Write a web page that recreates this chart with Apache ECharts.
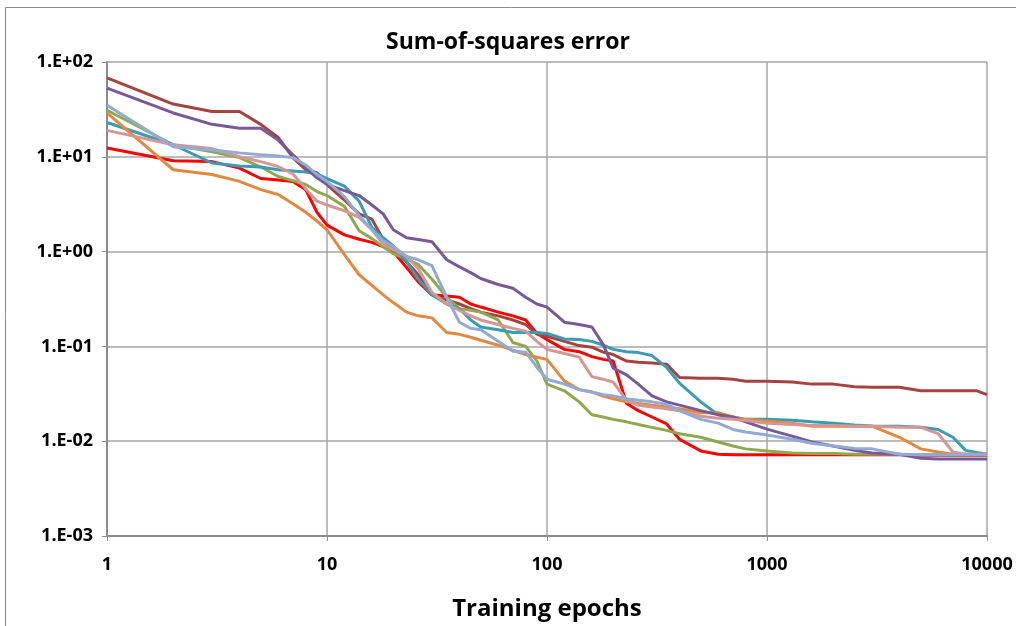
<!DOCTYPE html>
<html>
<head>
<meta charset="utf-8">
<script src="https://cdn.jsdelivr.net/npm/echarts@6/dist/echarts.min.js"></script>
<style>
  html, body { margin: 0; padding: 0; background: #fff; }
  #chart { width: 1016px; height: 626px; }
</style>
</head>
<body>
<div id="chart"></div>
<script>
// training epochs (x) shared by every run
var epochs = [1, 2, 3, 4, 5, 6, 7, 8, 9, 10, 12, 14, 16, 18, 20, 23, 26, 30, 35, 40, 45, 50, 60, 70, 80, 90,
  100, 120, 140, 160, 180, 200, 230, 260, 300, 350, 400, 500, 600, 700, 800, 1000, 1300, 1600, 2000, 2500,
  3000, 4000, 5000, 6000, 7000, 8000, 9000, 10000];

var yTicks = [0.001, 0.01, 0.1, 1, 10, 100];
var xTicks = [1, 10, 100, 1000, 10000];

// sum-of-squares error per run
var runRed = [12.4, 9.1, 8.9, 7.6, 5.9, 5.7, 5.5, 4.5, 2.6, 1.9, 1.5, 1.35, 1.25, 1.13, 1.0, 0.68, 0.48, 0.35, 0.34, 0.33, 0.28, 0.26,
  0.23, 0.21, 0.19, 0.137, 0.118, 0.093, 0.088, 0.078, 0.073, 0.07, 0.025, 0.021, 0.018, 0.0152, 0.0105, 0.0079, 0.0073,
  0.0072, 0.0072, 0.0072, 0.0072, 0.0072, 0.0072, 0.0072, 0.0072, 0.0072, 0.0071, 0.0071, 0.0071, 0.0071, 0.0071, 0.0071];
var runDarkRed = [68, 36, 30, 30, 22, 16, 9.8, 7.3, 6.8, 5.1, 3.5, 2.5, 2.2, 1.34, 1.05, 0.78, 0.57, 0.35, 0.31, 0.28, 0.25, 0.23,
  0.21, 0.19, 0.17, 0.135, 0.128, 0.113, 0.102, 0.098, 0.087, 0.082, 0.07, 0.068, 0.067, 0.065, 0.047, 0.046, 0.046,
  0.045, 0.043, 0.043, 0.042, 0.04, 0.04, 0.0375, 0.037, 0.037, 0.034, 0.034, 0.034, 0.034, 0.034, 0.031];
var runPurple = [53, 29, 22, 20, 20, 15, 10.5, 7.7, 6.0, 5.1, 4.4, 3.9, 3.1, 2.5, 1.7, 1.4, 1.34, 1.27, 0.82, 0.69, 0.6, 0.52,
  0.45, 0.41, 0.33, 0.28, 0.26, 0.18, 0.17, 0.16, 0.105, 0.059, 0.05, 0.04, 0.03, 0.026, 0.024, 0.021, 0.019,
  0.018, 0.016, 0.0134, 0.0113, 0.0098, 0.0089, 0.008, 0.0075, 0.0073, 0.0066, 0.0065, 0.0065, 0.0065, 0.0065, 0.0065];
var runGreen = [31, 13.4, 11.3, 9.8, 7.8, 6.2, 5.6, 5.1, 4.3, 3.9, 3.0, 1.66, 1.37, 1.13, 0.95, 0.84, 0.73, 0.51, 0.33, 0.25, 0.24, 0.23,
  0.19, 0.11, 0.1, 0.07, 0.04, 0.034, 0.026, 0.019, 0.018, 0.017, 0.016, 0.015, 0.014, 0.013, 0.012, 0.011, 0.0098,
  0.0089, 0.0083, 0.0079, 0.0075, 0.0074, 0.0074, 0.0073, 0.0073, 0.0073, 0.0072, 0.0072, 0.0072, 0.0072, 0.0072, 0.0072];
var runTeal = [23, 13.4, 8.6, 8.0, 7.8, 7.3, 7.1, 6.9, 6.6, 5.9, 4.9, 3.4, 1.8, 1.4, 1.15, 0.78, 0.51, 0.35, 0.28, 0.25, 0.19, 0.16,
  0.15, 0.14, 0.14, 0.14, 0.137, 0.12, 0.118, 0.113, 0.103, 0.093, 0.088, 0.086, 0.08, 0.06, 0.041, 0.026, 0.019,
  0.018, 0.017, 0.017, 0.0166, 0.016, 0.0155, 0.0148, 0.0145, 0.0144, 0.014, 0.0133, 0.011, 0.008, 0.0076, 0.0073];
var runOrange = [29, 7.3, 6.5, 5.5, 4.5, 4.0, 3.2, 2.6, 2.1, 1.7, 0.93, 0.57, 0.44, 0.35, 0.29, 0.23, 0.21, 0.2, 0.14, 0.134, 0.125, 0.116,
  0.103, 0.091, 0.082, 0.077, 0.073, 0.043, 0.035, 0.033, 0.03, 0.028, 0.026, 0.025, 0.024, 0.023, 0.022, 0.02, 0.02,
  0.018, 0.017, 0.0163, 0.0155, 0.0144, 0.0144, 0.0144, 0.0144, 0.011, 0.0083, 0.0077, 0.0073, 0.0073, 0.0073, 0.0073];
var runPink = [19, 13.4, 12.2, 10, 8.9, 7.9, 6.6, 4.6, 3.4, 3.1, 2.7, 2.3, 1.7, 1.2, 1.05, 0.89, 0.66, 0.37, 0.28, 0.24, 0.21, 0.19,
  0.17, 0.155, 0.145, 0.113, 0.093, 0.084, 0.077, 0.048, 0.045, 0.042, 0.027, 0.024, 0.023, 0.022, 0.021, 0.0183, 0.0175,
  0.017, 0.0165, 0.0155, 0.015, 0.0146, 0.0146, 0.0144, 0.0144, 0.014, 0.014, 0.012, 0.0077, 0.0073, 0.0073, 0.0073];
var runLightBlue = [35, 12.8, 11.8, 11, 10.5, 10.2, 9.8, 8.2, 6.5, 5.5, 3.8, 2.4, 1.7, 1.3, 1.13, 0.89, 0.82, 0.71, 0.33, 0.18, 0.155, 0.15,
  0.113, 0.089, 0.087, 0.06, 0.045, 0.04, 0.035, 0.033, 0.031, 0.03, 0.028, 0.027, 0.026, 0.0245, 0.021, 0.017, 0.0155,
  0.0133, 0.0125, 0.0116, 0.0105, 0.0095, 0.0089, 0.0084, 0.0083, 0.0073, 0.0072, 0.0072, 0.0072, 0.0072, 0.0072, 0.0072];

var runs = [
  { name: "run 1", data: runRed, color: "#FF0000" },
  { name: "run 2", data: runDarkRed, color: "#A5443F" },
  { name: "run 3", data: runGreen, color: "#8DAA4E" },
  { name: "run 4", data: runTeal, color: "#3A9BB3" },
  { name: "run 5", data: runOrange, color: "#E3893F" },
  { name: "run 6", data: runPurple, color: "#775A97" },
  { name: "run 7", data: runPink, color: "#D49793" },
  { name: "run 8", data: runLightBlue, color: "#8FABD6" }
];

var font = "'Liberation Sans Narrow', 'Arial Narrow', 'Open Sans', sans-serif";

function expLabel(v) {
  var e = Math.round(Math.log10(v));
  var s = e < 0 ? "-" : "+";
  var a = Math.abs(e);
  return "1.E" + s + (a < 10 ? "0" + a : a);
}

var chart = echarts.init(document.getElementById("chart"));
chart.setOption({
  animation: false,
  backgroundColor: "#fff",
  title: {
    text: "Sum-of-squares error",
    left: "center",
    top: 26,
    textStyle: { fontFamily: font, fontSize: 23, fontWeight: "bold", color: "#000" }
  },
  graphic: [{
    type: "rect",
    shape: { x: 5.5, y: 7.5, width: 1100, height: 700 },
    style: { fill: null, stroke: "#8c8c8c", lineWidth: 1 },
    silent: true
  }],
  grid: { left: 107, right: 29, top: 62, bottom: 89, containLabel: false },
  xAxis: {
    type: "log",
    logBase: 10,
    min: xTicks[0],
    max: xTicks[xTicks.length - 1],
    name: "Training epochs",
    nameLocation: "middle",
    nameGap: 61,
    nameTextStyle: { fontFamily: font, fontSize: 24, fontWeight: "bold", color: "#000" },
    axisLine: { lineStyle: { color: "#8c8c8c", width: 2 } },
    axisTick: { show: true, length: 5, lineStyle: { color: "#8c8c8c" } },
    minorTick: { show: false },
    axisLabel: {
      margin: 20,
      fontFamily: font, fontSize: 18, fontWeight: "bold", color: "#000",
      formatter: function (v) { return String(Math.round(v)); }
    },
    splitLine: { show: true, lineStyle: { color: "#a6a6a6", width: 1.5 } }
  },
  yAxis: {
    type: "log",
    logBase: 10,
    min: yTicks[0],
    max: yTicks[yTicks.length - 1],
    axisLine: { show: true, lineStyle: { color: "#8c8c8c", width: 2 } },
    axisTick: { show: true, length: 5, lineStyle: { color: "#8c8c8c" } },
    axisLabel: {
      margin: 14,
      fontFamily: font, fontSize: 18, fontWeight: "bold", color: "#000",
      formatter: expLabel
    },
    splitLine: { show: true, lineStyle: { color: "#a6a6a6", width: 1.5 } }
  },
  series: runs.map(function (r) {
    return {
      name: r.name,
      type: "line",
      showSymbol: false,
      symbol: "none",
      data: epochs.map(function (x, i) { return [x, r.data[i]]; }),
      lineStyle: { color: r.color, width: 3 },
      itemStyle: { color: r.color }
    };
  })
});
</script>
</body>
</html>
